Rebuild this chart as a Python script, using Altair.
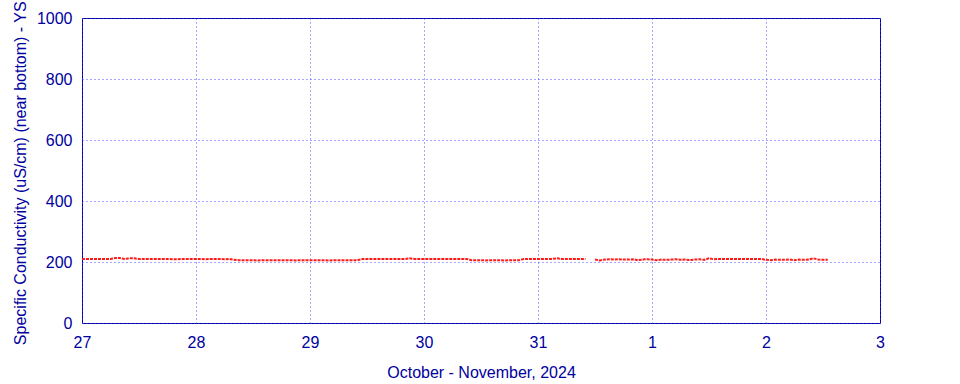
import altair as alt
import pandas as pd

# Hourly specific conductivity readings (uS/cm), one list per day starting Oct 27 00:00
# (None marks a missing reading)
oct27 = [210,210,210,210,210,210,210,213,213,210,212,212,210,210,210,210,210,210,210,209,209,210,210,210]
oct28 = [210,210,209,210,210,210,209,210,207,206,206,206,206,205,206,206,206,206,206,206,206,205,206,206]
oct29 = [206,206,206,206,205,206,206,206,206,206,206,210,210,210,210,210,210,210,210,210,210,212,210,210]
oct30 = [210,210,210,210,210,210,210,210,210,210,206,206,206,205,206,206,206,205,206,206,206,210,210,210]
oct31 = [210,210,210,210,212,210,210,210,210,210,210,None,208,205,208,209,208,209,208,208,209,206,208,209]
nov01 = [208,206,208,207,208,209,207,208,206,208,209,207,212,209,210,210,210,210,210,210,210,210,210,210]
nov02 = [207,206,208,207,207,208,206,208,207,208,212,208,207,207]

days = [oct27, oct28, oct29, oct30, oct31, nov01, nov02]
x_tick_labels = ["27", "28", "29", "30", "31", "1", "2", "3"]
y_ticks = [0, 200, 400, 600, 800, 1000]

rows = []
seg = 0
for d, vals in enumerate(days):
    for h, v in enumerate(vals):
        if v is None:
            seg += 1
            continue
        rows.append({"t": d + h / 24.0, "cond": v, "seg": seg})
df = pd.DataFrame(rows)

BLUE = "#0000a0"
GRID = "#3a3aff"
FONT = "Liberation Sans"
label_expr = "[" + ",".join("'%s'" % s for s in x_tick_labels) + "][round(datum.value)]"

x_enc = alt.X("t:Q", scale=alt.Scale(domain=[0, 7], nice=False, zero=False),
              axis=alt.Axis(values=list(range(8)), labelExpr=label_expr,
                            title="October - November, 2024", grid=True,
                            gridColor=GRID, gridDash=[1, 3], gridOpacity=0.9,
                            ticks=False, domain=False, labelColor=BLUE, titleColor=BLUE,
                            labelFont=FONT, titleFont=FONT,
                            labelFontSize=16, titleFontSize=16, titleFontWeight="normal",
                            labelPadding=11, titlePadding=14, labelFlush=False))
y_enc = alt.Y("cond:Q", scale=alt.Scale(domain=[0, 1000], nice=False),
              axis=alt.Axis(values=y_ticks, format="d",
                            title="Specific Conductivity (uS/cm) (near bottom) - YSI",
                            grid=True, gridColor=GRID, gridDash=[1, 3], gridOpacity=0.9,
                            ticks=False, domain=False, labelColor=BLUE, titleColor=BLUE,
                            labelFont=FONT, titleFont=FONT,
                            labelFontSize=16, titleFontSize=16, titleFontWeight="normal",
                            labelPadding=10, titlePadding=8))

line = alt.Chart(df).mark_line(color="#ff1a1a", strokeWidth=2, strokeDash=[3, 1]).encode(
    x=x_enc, y=y_enc, detail="seg:N")

chart = line.properties(
    width=798, height=305,
    autosize="none",
    padding={"left": 82, "top": 18, "right": 80, "bottom": 61},
    background="white",
).configure_view(stroke=BLUE, strokeWidth=1)

chart.save("out.html", embed_options={"renderer": "svg", "actions": False})
